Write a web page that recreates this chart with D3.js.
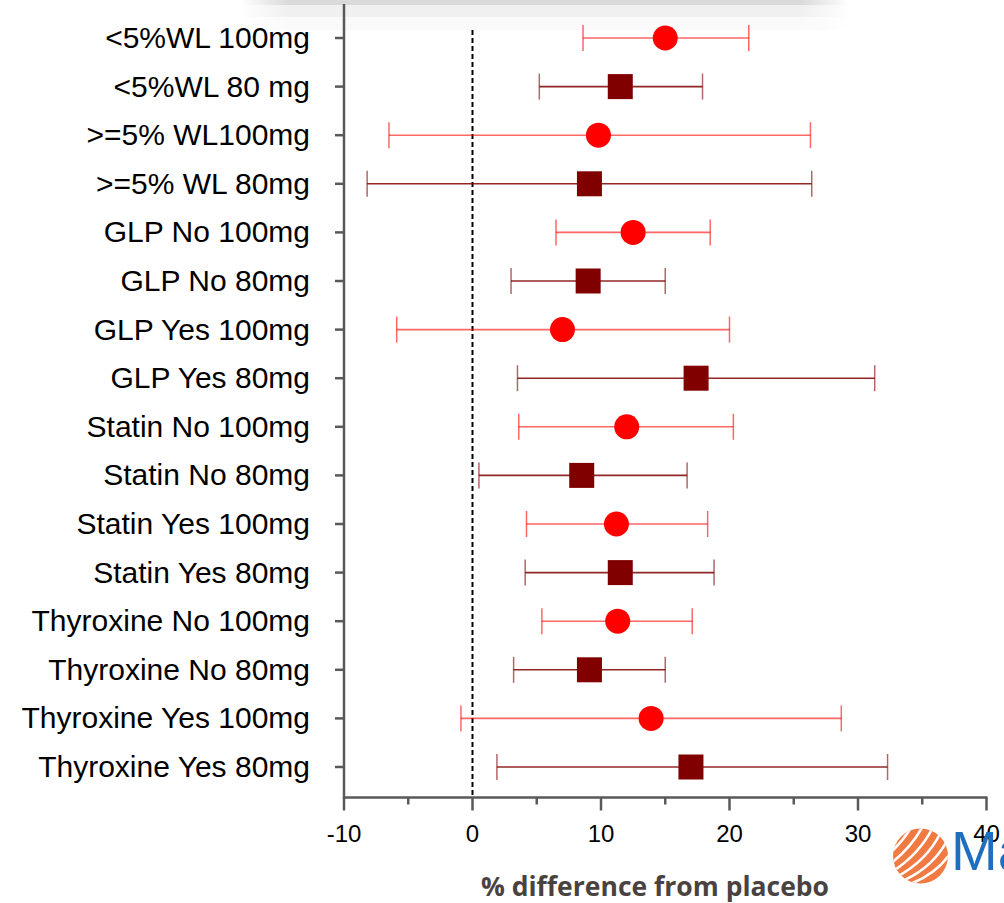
<!DOCTYPE html>
<html><head><meta charset="utf-8">
<script src="https://cdn.jsdelivr.net/npm/d3@7"></script>
<style>body{margin:0;background:#fff;}svg{display:block;}</style>
</head><body>
<script>
const categories = ["<5%WL 100mg","<5%WL 80 mg",">=5% WL100mg",">=5% WL 80mg","GLP No 100mg","GLP No 80mg","GLP Yes 100mg","GLP Yes 80mg","Statin No 100mg","Statin No 80mg","Statin Yes 100mg","Statin Yes 80mg","Thyroxine No 100mg","Thyroxine No 80mg","Thyroxine Yes 100mg","Thyroxine Yes 80mg"];
const doses = [100,80,100,80,100,80,100,80,100,80,100,80,100,80,100,80];
const estimates = [15.0,11.5,9.8,9.1,12.5,9.0,7.0,17.4,12.0,8.5,11.2,11.5,11.3,9.1,13.9,17.0];
const lowerCI = [8.6,5.2,-6.5,-8.2,6.5,3.0,-5.9,3.5,3.6,0.5,4.2,4.1,5.4,3.2,-0.9,1.9];
const upperCI = [21.5,17.9,26.3,26.4,18.5,15.0,20.0,31.3,20.3,16.7,18.3,18.8,17.1,15.0,28.7,32.3];
const xTicks = [-10,0,10,20,30,40];
const xMinorTicks = [-5,5,15,25,35];
const xTitle = "% difference from placebo";

const W = 1004, H = 903;
const svg = d3.select("body").append("svg").attr("width", W).attr("height", H);

// top shadow band
const defs = svg.append("defs");
const g1 = defs.append("linearGradient").attr("id","fadeH").attr("x1","0").attr("x2","1");
g1.append("stop").attr("offset","0").attr("stop-color","#fff").attr("stop-opacity",1);
g1.append("stop").attr("offset","0.08").attr("stop-color","#fff").attr("stop-opacity",0);
g1.append("stop").attr("offset","0.92").attr("stop-color","#fff").attr("stop-opacity",0);
g1.append("stop").attr("offset","1").attr("stop-color","#fff").attr("stop-opacity",1);
const band = svg.append("g");
band.append("rect").attr("x",240).attr("y",0).attr("width",610).attr("height",5).attr("fill","#dadada");
band.append("rect").attr("x",240).attr("y",5).attr("width",610).attr("height",12).attr("fill","#f0f0f0");
band.append("rect").attr("x",240).attr("y",17).attr("width",610).attr("height",13).attr("fill","#fafafa");
band.append("rect").attr("x",240).attr("y",0).attr("width",610).attr("height",30).attr("fill","url(#fadeH)");

const x = d3.scaleLinear().domain([-10,40]).range([344,986.5]);
const y = d3.scalePoint().domain(categories).range([38,767]);
const axisY = 797.5;
const axisColor = "#595959";

// dashed zero line
svg.append("line").attr("x1",x(0)).attr("x2",x(0)).attr("y1",30).attr("y2",axisY)
  .attr("stroke","#000").attr("stroke-width",2).attr("stroke-dasharray","5,3");

// error bars and markers
const data = categories.map((c,i)=>({c, dose:doses[i], est:estimates[i], lo:lowerCI[i], hi:upperCI[i]}));
const colorOf = d => d.dose===100 ? "#ff0000" : "#800000";
const rows = svg.append("g").selectAll("g").data(data).join("g");
rows.append("line").attr("x1",d=>x(d.lo)).attr("x2",d=>x(d.hi)).attr("y1",d=>y(d.c)).attr("y2",d=>y(d.c))
  .attr("stroke",colorOf).attr("stroke-opacity",d=>d.dose===100?0.6:0.85).attr("stroke-width",1.6);
rows.append("line").attr("x1",d=>x(d.lo)).attr("x2",d=>x(d.lo)).attr("y1",d=>y(d.c)-13).attr("y2",d=>y(d.c)+13)
  .attr("stroke",colorOf).attr("stroke-opacity",0.6).attr("stroke-width",1.5);
rows.append("line").attr("x1",d=>x(d.hi)).attr("x2",d=>x(d.hi)).attr("y1",d=>y(d.c)-13).attr("y2",d=>y(d.c)+13)
  .attr("stroke",colorOf).attr("stroke-opacity",0.6).attr("stroke-width",1.5);
rows.filter(d=>d.dose===100).append("circle").attr("cx",d=>x(d.est)).attr("cy",d=>y(d.c)).attr("r",12.5).attr("fill","#ff0000");
rows.filter(d=>d.dose===80).append("rect").attr("x",d=>x(d.est)-12.5).attr("y",d=>y(d.c)-12.5).attr("width",25).attr("height",25).attr("fill","#800000");

// y axis
svg.append("line").attr("x1",344).attr("x2",344).attr("y1",4).attr("y2",axisY+1).attr("stroke",axisColor).attr("stroke-width",2.5);
const yg = svg.append("g");
yg.selectAll("line").data(categories).join("line")
  .attr("x1",335).attr("x2",344).attr("y1",d=>y(d)).attr("y2",d=>y(d)).attr("stroke",axisColor).attr("stroke-width",2.5);
yg.selectAll("text").data(categories).join("text")
  .attr("x",310).attr("y",d=>y(d)+10)
  .attr("text-anchor","end").attr("font-family","Liberation Sans, Arial, sans-serif").attr("font-size",30).attr("fill","#000")
  .text(d=>d);

// x axis
svg.append("line").attr("x1",343).attr("x2",x(40)+1).attr("y1",axisY).attr("y2",axisY).attr("stroke",axisColor).attr("stroke-width",2.5);
const xg = svg.append("g");
xg.selectAll("line.maj").data(xTicks).join("line").attr("class","maj")
  .attr("x1",d=>x(d)).attr("x2",d=>x(d)).attr("y1",axisY).attr("y2",axisY+13).attr("stroke",axisColor).attr("stroke-width",2.5);
xg.selectAll("line.min").data(xMinorTicks).join("line").attr("class","min")
  .attr("x1",d=>x(d)).attr("x2",d=>x(d)).attr("y1",axisY).attr("y2",axisY+7).attr("stroke",axisColor).attr("stroke-width",2.5);

// logo
const logo = svg.append("g");
const lcx = 920.5, lcy = 856, lr = 27.5;
defs.append("clipPath").attr("id","logoClip").append("circle").attr("cx",lcx).attr("cy",lcy).attr("r",lr);
logo.append("circle").attr("cx",lcx).attr("cy",lcy).attr("r",lr).attr("fill","#f07a42");
const stripes = logo.append("g").attr("clip-path","url(#logoClip)");
[0,1,2,3,4,5].forEach(k=>{
  const sx = lcx - 8 + k*8, sy = lcy - 32 + k*5;
  stripes.append("path")
    .attr("d",`M${sx+4},${sy-6} Q${sx-10},${sy+22} ${sx-40},${sy+44 - k*2}`)
    .attr("fill","none").attr("stroke","#fff").attr("stroke-width",2.6);
});
logo.append("text").attr("x",951).attr("y",870).attr("font-family","Liberation Sans, Arial, sans-serif")
  .attr("font-size",56).attr("fill","#1e6fbf").text("Ma");

xg.selectAll("text").data(xTicks).join("text")
  .attr("x",d=>x(d)).attr("y",axisY+44)
  .attr("text-anchor","middle").attr("font-family","Liberation Sans, Arial, sans-serif").attr("font-size",24).attr("fill","#000")
  .text(d=>d);

svg.append("text").attr("x",655).attr("y",896).attr("text-anchor","middle")
  .attr("font-family","Open Sans, sans-serif").attr("font-weight","bold").attr("font-size",26.5)
  .attr("fill","#4a4240").text(xTitle);
</script>
</body></html>
